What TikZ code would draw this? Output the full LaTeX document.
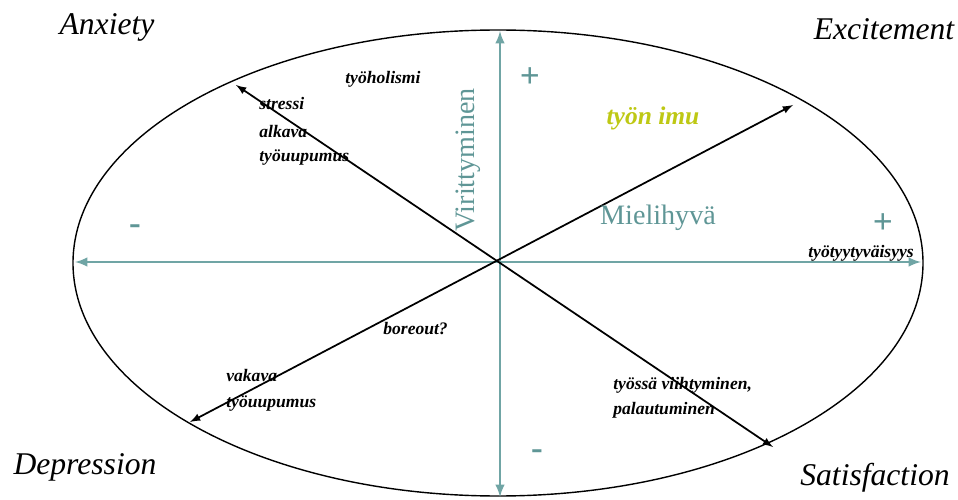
\documentclass[tikz,border=0pt]{standalone}
\usepackage{fontspec}
\setmainfont{Liberation Serif}
\usepackage{tikz}
\definecolor{axisteal}{RGB}{112,165,165}
\definecolor{labelteal}{RGB}{95,150,150}
\definecolor{imugreen}{RGB}{190,200,20}

\begin{document}
\begin{tikzpicture}[x=0.02cm, y=0.02cm]
\tikzstyle{every node}+=[inner sep=0pt]
\tikzstyle{corner}=[font=\fontsize{18}{20}\selectfont\itshape]
\tikzstyle{small}=[font=\fontsize{10}{12}\selectfont\bfseries\itshape, anchor=west]
\tikzstyle{sign}=[text=labelteal, font=\fontsize{20}{22}\selectfont\bfseries]
\useasboundingbox (0,0) rectangle (958,-500);
\draw [black, line width=0.8pt] (498,-263) ellipse (425 and 233);
% axes
\coordinate (left) at (75,-262);
\coordinate (right) at (921,-262);
\coordinate (top) at (500,-31);
\coordinate (bottom) at (500,-497);
\draw [axisteal, line width=1.4pt, <->, >=latex] (left) -- (right);
\draw [axisteal, line width=1.4pt, <->, >=latex] (top) -- (bottom);
% diagonals
\coordinate (nw) at (236,-85);
\coordinate (se) at (773,-447);
\coordinate (ne) at (793,-105);
\coordinate (sw) at (190,-422);
\draw [black, line width=1pt, <->, >=latex] (nw) -- (se);
\draw [black, line width=1pt, <->, >=latex] (sw) -- (ne);
% corner words
\node [corner] (anx) at (107,-27) {Anxiety};
\node [corner] (exc) at (884,-29) {Excitement};
\node [corner] (dep) at (85,-467) {Depression};
\node [corner] (sat) at (875,-478) {Satisfaction};
% signs
\node [sign] (plustop) at (530,-78) {+};
\node [sign] (minusleft) at (135,-230) {-};
\node [sign] (plusright) at (883,-224) {+};
\node [sign] (minusbot) at (537,-455) {-};
% axis names
\node [text=labelteal, font=\fontsize{16}{18}\selectfont, rotate=90] (viri) at (468,-160) {Virittyminen};
\node [text=labelteal, font=\fontsize{16}{18}\selectfont] (mieli) at (658,-218) {Mielihyvä};
\node [text=imugreen, font=\fontsize{14.5}{16}\selectfont\bfseries\itshape] (imu) at (653,-118) {työn imu};
% small labels
\node [small] (holismi) at (345,-79) {työholismi};
\node [small] (stressi) at (259,-103) {stressi};
\node [small] (alkava) at (259,-131) {alkava};
\node [small] (uupu1) at (259,-158) {työuupumus};
\node [small] (tyyty) at (808,-253) {työtyytyväisyys};
\node [small] (bore) at (383,-329) {boreout?};
\node [small] (vakava) at (226,-375) {vakava};
\node [small] (uupu2) at (226,-404) {työuupumus};
\node [small] (viihty) at (613,-385) {työssä viihtyminen,};
\node [small] (palaut) at (613,-410) {palautuminen};
\end{tikzpicture}
\end{document}
